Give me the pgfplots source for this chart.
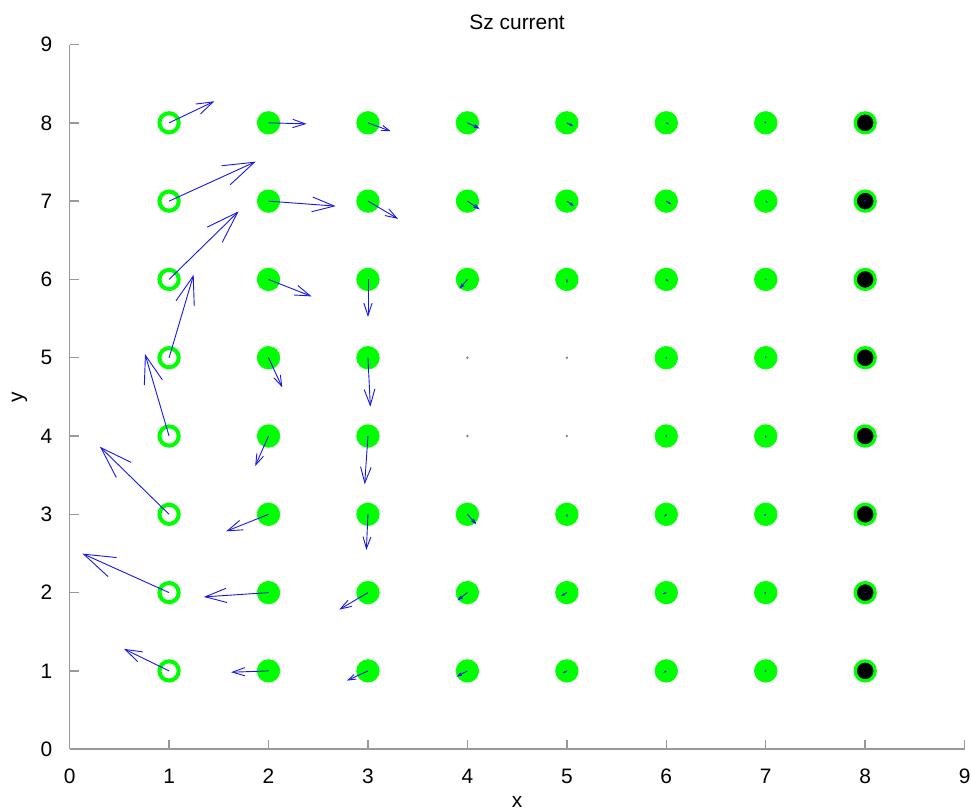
\documentclass[border=0pt]{standalone}
\usepackage{fontspec}
\setmainfont{Liberation Sans}
\usepackage{pgfplots}
\usepackage{pgfplotstable}
\pgfplotsset{compat=1.18}
\usetikzlibrary{arrows.meta}
\definecolor{mgreen}{rgb}{0,1,0}
\definecolor{qblue}{rgb}{0.1,0.1,0.9}

% spin-current vectors: site (x,y) and components (u,v)
\pgfplotstableread{
x y u v
1 8 0.455 0.275
1 7 0.871 0.504
1 6 0.700 0.870
1 5 0.247 1.060
1 4 -0.242 1.047
1 3 -0.695 0.863
1 2 -0.871 0.498
1 1 -0.453 0.281
2 8 0.383 -0.013
2 7 0.675 -0.064
2 6 0.433 -0.217
2 5 0.138 -0.379
2 4 -0.134 -0.383
2 3 -0.426 -0.217
2 2 -0.651 -0.055
2 1 -0.376 -0.017
3 8 0.229 -0.107
3 7 0.302 -0.226
3 6 0.000 -0.480
3 5 0.024 -0.626
3 4 -0.033 -0.617
3 3 -0.016 -0.456
3 2 -0.289 -0.217
3 1 -0.211 -0.124
4 8 0.124 -0.073
4 7 0.124 -0.106
4 6 -0.080 -0.119
4 3 0.090 -0.128
4 2 -0.100 -0.098
4 1 -0.110 -0.073
5 8 0.066 -0.043
5 7 0.073 -0.064
5 6 0.003 -0.050
5 3 0.005 -0.040
5 2 -0.057 -0.043
5 1 -0.044 -0.030
6 8 0.030 -0.020
6 7 0.050 -0.040
6 6 0.020 -0.030
6 5 0.003 -0.020
6 4 0.003 0.020
6 3 -0.020 -0.030
6 2 -0.040 -0.020
6 1 -0.030 -0.025
7 8 0.010 -0.005
7 7 0.020 -0.020
7 6 0.010 -0.010
7 5 0.000 -0.010
7 4 0.000 0.010
7 3 -0.020 -0.020
7 2 -0.020 -0.010
7 1 -0.015 -0.010
8 7 0.008 -0.006
8 2 -0.008 -0.006
}\currents

\begin{document}
\begin{tikzpicture}[font=\fontsize{11.5}{13.8}\selectfont]
\useasboundingbox (-38.3pt,-34.5pt) rectangle (495.8pt,412.1pt);
\begin{axis}[
  at={(0,0)}, anchor=south west,
  scale only axis, width=492.3pt, height=387.6pt,
  xmin=0, xmax=9, ymin=0, ymax=9,
  enlargelimits=false,
  axis lines*=left,
  axis line style={gray!80, line width=0.8pt},
  tick style={gray!80, line width=0.8pt},
  tick align=inside,
  major tick length=5pt,
  xtick={0,...,9}, ytick={0,...,9},
  /pgf/number format/assume math mode=true,
  xticklabel style={yshift=-7.5pt},
  yticklabel style={xshift=-6pt},
  title={Sz current},
  title style={at={(axis description cs:0.5,1)}, anchor=base, yshift=2.3pt},
  xlabel={x},
  xlabel style={at={(axis description cs:0.5,0)}, anchor=base, yshift=-32pt},
  ylabel={y},
  ylabel style={at={(axis description cs:-0.056,0.5)}, anchor=center},
  point meta min=0, point meta max=1,
  clip mode=individual,
  clip=false,
]
% sites with finite magnetisation
\addplot[only marks, mark=*, mark size=6.2pt,
  mark options={fill=mgreen, draw=mgreen}] coordinates {
  (2,1) (2,2) (2,3) (2,4) (2,5) (2,6) (2,7) (2,8)
  (3,1) (3,2) (3,3) (3,4) (3,5) (3,6) (3,7) (3,8)
  (4,1) (4,2) (4,3) (4,6) (4,7) (4,8)
  (5,1) (5,2) (5,3) (5,6) (5,7) (5,8)
  (6,1) (6,2) (6,3) (6,4) (6,5) (6,6) (6,7) (6,8)
  (7,1) (7,2) (7,3) (7,4) (7,5) (7,6) (7,7) (7,8)
};
% left edge column
\addplot[only marks, mark=*, mark size=5.3pt,
  mark options={fill=white, draw=mgreen, line width=2.2pt}] coordinates {
  (1,1) (1,2) (1,3) (1,4) (1,5) (1,6) (1,7) (1,8)
};
% right edge column
\addplot[only marks, mark=*, mark size=5.5pt,
  mark options={fill=black, draw=mgreen, line width=1.8pt}] coordinates {
  (8,1) (8,2) (8,3) (8,4) (8,5) (8,6) (8,7) (8,8)
};
% vanishing vectors in the hole
\addplot[only marks, mark=*, mark size=0.45pt, color=gray] coordinates {
  (4,4) (4,5) (5,4) (5,5)
};
% current vectors, head size proportional to length
\addplot[qblue, line width=0.5pt,
  point meta={sqrt((\thisrow{u})^2+(0.788*\thisrow{v})^2)},
  quiver={u=\thisrow{u}, v=\thisrow{v},
    every arrow/.append style={-{Straight Barb[length=18pt, width=12pt,
      scale={max(0.02,\pgfplotspointmetatransformed/1000)}]}}},
] table[x=x, y=y] {\currents};
\end{axis}
\end{tikzpicture}
\end{document}
